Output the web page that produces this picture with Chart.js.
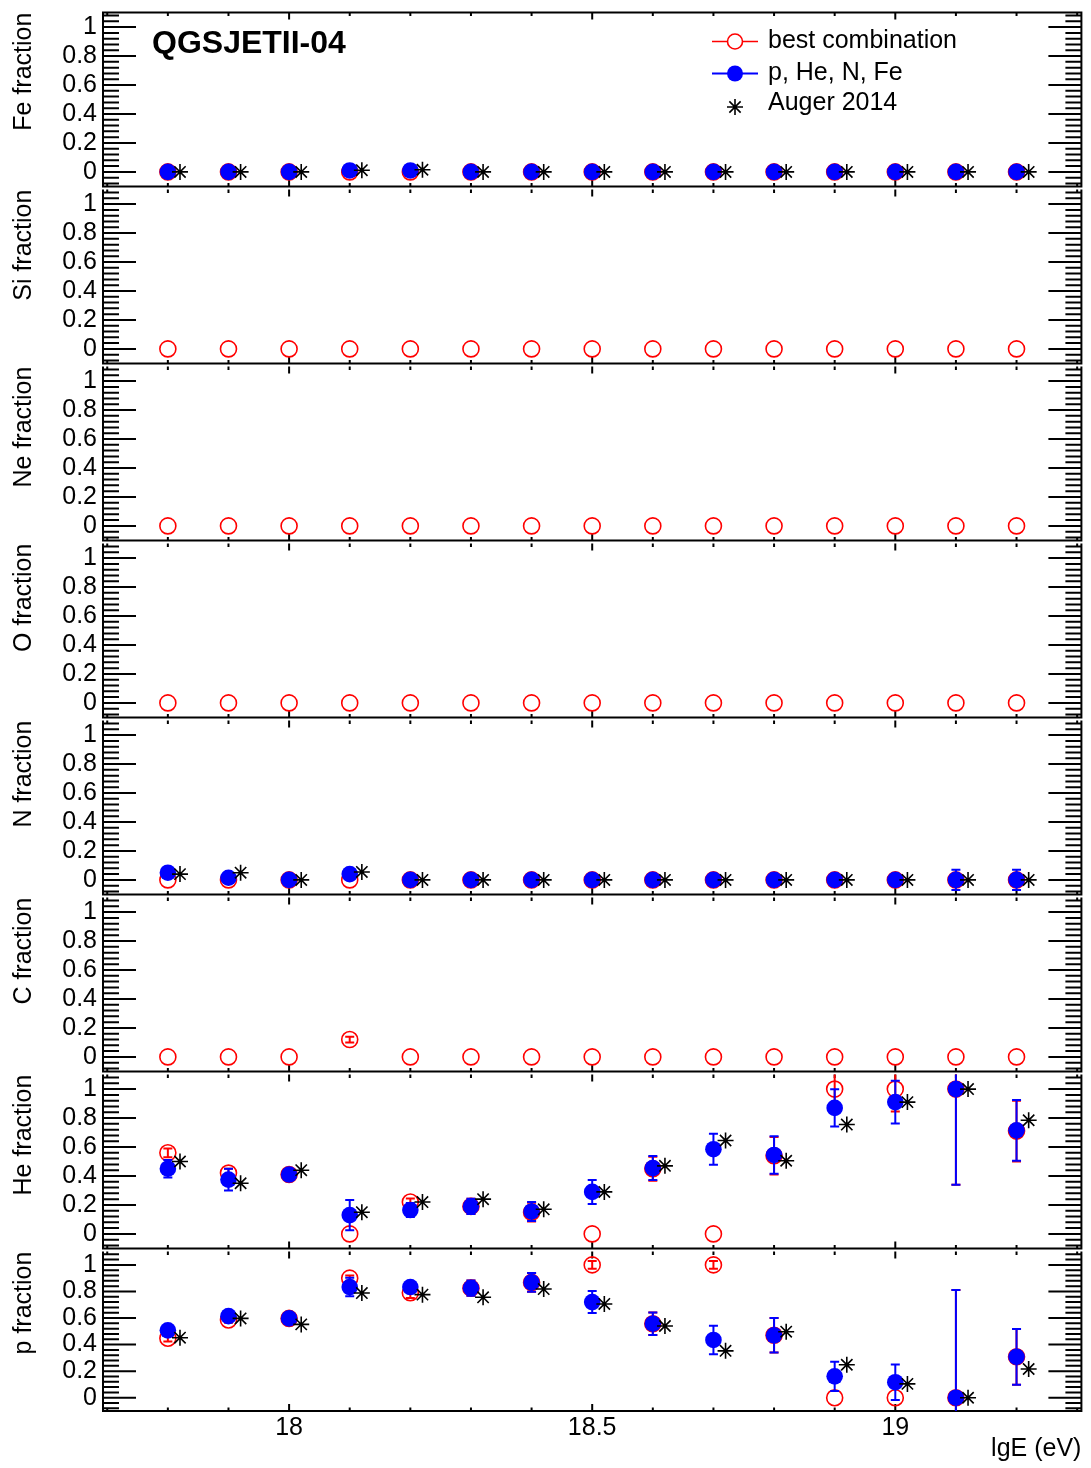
<!DOCTYPE html>
<html>
<head>
<meta charset="utf-8">
<script src="https://cdn.jsdelivr.net/npm/chart.js@4.4.0/dist/chart.umd.min.js"></script>
<style>
  body { margin: 0; background: #fff; }
  #wrap { position: relative; width: 1091px; height: 1468px; overflow: hidden; }
  #wrap canvas { position: absolute; left: 0; }
</style>
</head>
<body>
<div id="wrap"></div>
<script>
// energie bins (lgE) and Auger points (shifted a bit to the right)
const energies      = [17.8, 17.9, 18.0, 18.1, 18.2, 18.3, 18.4, 18.5, 18.6, 18.7, 18.8, 18.9, 19.0, 19.1, 19.2];
const augerEnergies = [17.82, 17.92, 18.02, 18.12, 18.22, 18.32, 18.42, 18.52, 18.62, 18.72, 18.82, 18.92, 19.02, 19.12, 19.22];

const yTickLabels = [0, 0.2, 0.4, 0.6, 0.8, 1];
const xTickLabels = [18, 18.5, 19];

// best combination (red open circles)
const bestFe    = [0, 0, 0, 0, 0, 0, 0, 0, 0, 0, 0, 0, 0, 0, 0];
const bestSi    = [0, 0, 0, 0, 0, 0, 0, 0, 0, 0, 0, 0, 0, 0, 0];
const bestNe    = [0, 0, 0, 0, 0, 0, 0, 0, 0, 0, 0, 0, 0, 0, 0];
const bestO     = [0, 0, 0, 0, 0, 0, 0, 0, 0, 0, 0, 0, 0, 0, 0];
const bestN     = [0, 0, 0, 0, 0, 0, 0, 0, 0, 0, 0, 0, 0, 0, 0];
const bestC     = [0, 0, 0, 0.12, 0, 0, 0, 0, 0, 0, 0, 0, 0, 0, 0];
const bestCErr  = [0, 0, 0, 0.02, 0, 0, 0, 0, 0, 0, 0, 0, 0, 0, 0];
const bestHe    = [0.56, 0.42, 0.41, 0, 0.22, 0.19, 0.15, 0, 0.45, 0, 0.54, 1, 1, 1, 0.71];
const bestHeErr = [0.03, 0.03, 0.02, 0, 0.025, 0.052, 0.065, 0, 0.083, 0, 0.13, 0.12, 0.155, 0.66, 0.21];
const bestP     = [0.448, 0.585, 0.597, 0.9, 0.79, 0.825, 0.868, 1, 0.557, 1, 0.47, 0, 0, 0, 0.308];
const bestPErr  = [0.025, 0.02, 0.02, 0.02, 0.04, 0.058, 0.07, 0.03, 0.085, 0.03, 0.13, 0, 0, 0.81, 0.21];

// p, He, N, Fe fit (blue full circles)
const fitFe     = [0, 0, 0, 0.01, 0.01, 0, 0, 0, 0, 0, 0, 0, 0, 0, 0];
const fitN      = [0.05, 0.015, 0, 0.04, 0, 0, 0, 0, 0, 0, 0, 0, 0, 0, 0];
const fitNErr   = [0, 0, 0, 0, 0.03, 0, 0, 0, 0, 0, 0, 0, 0, 0.07, 0.07];
const fitHe     = [0.45, 0.375, 0.41, 0.13, 0.165, 0.19, 0.155, 0.29, 0.455, 0.585, 0.545, 0.87, 0.91, 1, 0.715];
const fitHeErr  = [0.06, 0.075, 0.02, 0.105, 0.048, 0.052, 0.065, 0.083, 0.083, 0.107, 0.13, 0.128, 0.147, 0.66, 0.21];
const fitP      = [0.507, 0.614, 0.597, 0.833, 0.833, 0.825, 0.868, 0.72, 0.557, 0.435, 0.47, 0.161, 0.117, 0, 0.308];
const fitPErr   = [0.02, 0.02, 0.02, 0.07, 0.02, 0.058, 0.07, 0.083, 0.085, 0.107, 0.13, 0.11, 0.134, 0.81, 0.21];

// Auger 2014 (black stars)
const augerFe   = [0, 0, 0, 0.012, 0.015, 0, 0, 0, 0, 0, 0, 0, 0, 0, 0];
const augerN    = [0.04, 0.05, 0, 0.055, 0, 0, 0, 0, 0, 0, 0, 0, 0, 0, 0];
const augerHe   = [0.5, 0.35, 0.44, 0.15, 0.22, 0.24, 0.17, 0.29, 0.47, 0.645, 0.505, 0.755, 0.91, 1, 0.785];
const augerP    = [0.452, 0.597, 0.552, 0.788, 0.776, 0.756, 0.818, 0.706, 0.54, 0.353, 0.497, 0.248, 0.104, 0, 0.216];

const panels = [
    { name: "Fe", best: bestFe, fit: fitFe, auger: augerFe },
    { name: "Si", best: bestSi },
    { name: "Ne", best: bestNe },
    { name: "O",  best: bestO },
    { name: "N",  best: bestN, fit: fitN, fitErr: fitNErr, auger: augerN },
    { name: "C",  best: bestC, bestErr: bestCErr },
    { name: "He", best: bestHe, bestErr: bestHeErr, fit: fitHe, fitErr: fitHeErr, auger: augerHe },
    { name: "p",  best: bestP, bestErr: bestPErr, fit: fitP, fitErr: fitPErr, auger: augerP }
];

// pixel layout of the pads
const panelEdges = [11, 188, 365, 542, 719, 896, 1073, 1250, 1411];
const pageW = 1091, pageH = 1468, pad = 8;
const FONT = '"Liberation Sans", Arial, Helvetica, sans-serif';

Chart.defaults.font.family = FONT;
Chart.defaults.color = "#000";

// error bars, drawn just before each dataset's markers
const errorBars = {
    id: "errorBars",
    beforeDatasetDraw(chart, args) {
        const ds = chart.data.datasets[args.index];
        if (!ds.errors) return;
        const { ctx, chartArea: a } = chart;
        const x = chart.scales.x, y = chart.scales.y;
        ctx.save();
        ctx.beginPath();
        ctx.rect(a.left, a.top, a.right - a.left, a.bottom - a.top);
        ctx.clip();
        ctx.strokeStyle = ds.errorColor;
        ctx.lineWidth = 2;
        ds.data.forEach((p, k) => {
            const e = ds.errors[k];
            if (!e) return;
            const px = x.getPixelForValue(p.x);
            const y0 = y.getPixelForValue(p.y - e);
            const y1 = y.getPixelForValue(p.y + e);
            ctx.beginPath();
            ctx.moveTo(px, y0); ctx.lineTo(px, y1);
            ctx.moveTo(px - 4.5, y0); ctx.lineTo(px + 4.5, y0);
            ctx.moveTo(px - 4.5, y1); ctx.lineTo(px + 4.5, y1);
            ctx.stroke();
        });
        ctx.restore();
    }
};

// ROOT style frame with inward ticks on all four sides
// (the top edge is only stroked on the first pad, the pad above already drew it)
const frameTicks = {
    id: "frameTicks",
    beforeDatasetsDraw(chart) {
        const { ctx, chartArea: a } = chart;
        const x = chart.scales.x, y = chart.scales.y;
        const first = chart.options.plugins.frameTicks.first;
        ctx.save();
        ctx.strokeStyle = "#000";
        ctx.lineWidth = 2;
        ctx.beginPath();
        if (first) {
            ctx.moveTo(a.left - 1, a.top); ctx.lineTo(a.right + 1, a.top);
        }
        ctx.moveTo(a.left - 1, a.bottom); ctx.lineTo(a.right + 1, a.bottom);
        ctx.moveTo(a.left, a.top); ctx.lineTo(a.left, a.bottom);
        ctx.moveTo(a.right, a.top); ctx.lineTo(a.right, a.bottom);
        ctx.stroke();

        ctx.beginPath();
        // y: major every 0.2, 4 minor ticks in between
        for (let k = -2; k <= 27; k++) {
            const py = y.getPixelForValue(k * 0.04);
            if (py < a.top || py > a.bottom) continue;
            const len = k % 5 === 0 ? 33 : 16;
            ctx.moveTo(a.left, py); ctx.lineTo(a.left + len, py);
            ctx.moveTo(a.right, py); ctx.lineTo(a.right - len, py);
        }
        // x: small ticks every 0.1, larger at 18, 18.5, 19
        for (let k = 177; k <= 193; k++) {
            const px = x.getPixelForValue(k / 10);
            if (px < a.left || px > a.right) continue;
            const len = k % 5 === 0 ? 7 : 3.5;
            ctx.moveTo(px, a.top); ctx.lineTo(px, a.top + len);
            ctx.moveTo(px, a.bottom); ctx.lineTo(px, a.bottom - len);
        }
        ctx.stroke();
        ctx.restore();
    }
};

// title and legend of the top pad
const header = {
    id: "header",
    afterDraw(chart) {
        const ctx = chart.ctx;
        const off = panelEdges[0] - pad;
        ctx.save();
        ctx.fillStyle = "#000";
        ctx.font = "bold 32px " + FONT;
        ctx.textBaseline = "alphabetic";
        ctx.fillText("QGSJETII-04", 152, 53 - off);

        ctx.font = "25px " + FONT;
        ctx.fillText("best combination", 768, 47.5 - off);
        ctx.fillText("p, He, N, Fe", 768, 80 - off);
        ctx.fillText("Auger 2014", 768, 109.5 - off);

        // red line + open circle
        ctx.lineWidth = 1.6;
        ctx.strokeStyle = "#ff0000";
        ctx.beginPath();
        ctx.moveTo(712, 41.5 - off); ctx.lineTo(727.5, 41.5 - off);
        ctx.moveTo(742.5, 41.5 - off); ctx.lineTo(758, 41.5 - off);
        ctx.stroke();
        ctx.beginPath();
        ctx.arc(735, 41.5 - off, 7.5, 0, Math.PI * 2);
        ctx.stroke();
        // blue line + full circle
        ctx.strokeStyle = "#0000ff";
        ctx.fillStyle = "#0000ff";
        ctx.lineWidth = 2;
        ctx.beginPath();
        ctx.moveTo(712, 73.5 - off); ctx.lineTo(758, 73.5 - off);
        ctx.stroke();
        ctx.beginPath();
        ctx.arc(735, 73.5 - off, 8, 0, Math.PI * 2);
        ctx.fill();
        // star
        ctx.strokeStyle = "#000";
        ctx.lineWidth = 1.6;
        ctx.beginPath();
        for (let k = 0; k < 4; k++) {
            const ang = k * Math.PI / 4;
            const dx = Math.cos(ang) * 8, dy = Math.sin(ang) * 8;
            ctx.moveTo(735 - dx, 107 - off - dy); ctx.lineTo(735 + dx, 107 - off + dy);
        }
        ctx.stroke();
        ctx.restore();
    }
};

function makeChart(panel, i) {
    const top = panelEdges[i], bottom = panelEdges[i + 1];
    const last = i === panels.length - 1;
    const canvasTop = top - pad;
    const canvasH = last ? pageH - canvasTop : bottom - top + 2 * pad;

    const canvas = document.createElement("canvas");
    canvas.width = pageW;
    canvas.height = canvasH;
    canvas.style.top = canvasTop + "px";
    canvas.style.width = pageW + "px";
    canvas.style.height = canvasH + "px";
    document.getElementById("wrap").appendChild(canvas);

    const datasets = [{
        label: "best combination",
        data: energies.map((e, k) => ({ x: e, y: panel.best[k] })),
        errors: panel.bestErr,
        errorColor: "#ff0000",
        pointStyle: "circle",
        pointRadius: 8,
        backgroundColor: "rgba(255,255,255,0)",
        borderColor: "#ff0000",
        borderWidth: 1.6,
        order: 3
    }];
    if (panel.fit) {
        datasets.push({
            label: "p, He, N, Fe",
            data: energies.map((e, k) => ({ x: e, y: panel.fit[k] })),
            errors: panel.fitErr,
            errorColor: "#0000ff",
            pointStyle: "circle",
            pointRadius: 8.3,
            backgroundColor: "#0000ff",
            borderColor: "#0000ff",
            borderWidth: 0,
            order: 2
        });
    }
    if (panel.auger) {
        datasets.push({
            label: "Auger 2014",
            data: augerEnergies.map((e, k) => ({ x: e, y: panel.auger[k] })),
            pointStyle: "star",
            pointRadius: 8,
            backgroundColor: "#000",
            borderColor: "#000",
            borderWidth: 1.6,
            order: 1
        });
    }

    const plugins = [frameTicks, errorBars];
    if (i === 0) plugins.push(header);

    return new Chart(canvas, {
        type: "scatter",
        data: { datasets },
        plugins,
        options: {
            responsive: false,
            animation: false,
            events: [],
            layout: { padding: { left: 0, right: pageW - 1084, top: pad, bottom: last ? 0 : pad } },
            plugins: {
                legend: { display: false },
                tooltip: { enabled: false },
                frameTicks: { first: i === 0 }
            },
            scales: {
                x: {
                    type: "linear",
                    min: 17.693,
                    max: 19.307,
                    display: last,
                    grid: { display: false, drawTicks: false },
                    border: { display: false },
                    afterBuildTicks: s => { s.ticks = xTickLabels.map(v => ({ value: v })); },
                    afterFit: s => {
                        s.height = last ? pageH - panelEdges[8] : 0;
                        s.paddingLeft = 0; s.paddingRight = 0;
                    },
                    ticks: { font: { size: 25 }, padding: 2, autoSkip: false, maxRotation: 0, callback: v => String(v) },
                    title: { display: true, text: "lgE (eV)", align: "end", font: { size: 25 }, padding: { top: 0, bottom: 4 } }
                },
                y: {
                    type: "linear",
                    min: -0.1,
                    max: 1.1,
                    grid: { display: false, drawTicks: false },
                    border: { display: false },
                    afterBuildTicks: s => { s.ticks = yTickLabels.map(v => ({ value: v })); },
                    afterFit: s => {
                        s.width = 103;
                        s.paddingTop = 0; s.paddingBottom = 0;
                    },
                    ticks: { font: { size: 25 }, padding: 6, autoSkip: false, callback: v => String(v) },
                    title: { display: true, text: panel.name + " fraction", align: "end", font: { size: 25 }, padding: { top: 9, bottom: 0 } }
                }
            }
        }
    });
}

panels.forEach(makeChart);
</script>
</body>
</html>
